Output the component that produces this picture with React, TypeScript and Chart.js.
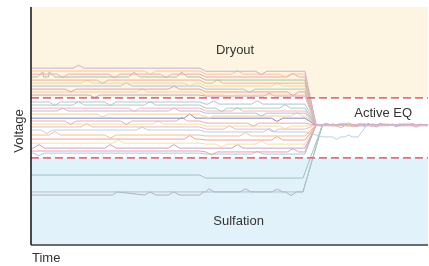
import React, { useEffect, useRef } from "react";
import { Chart, registerables } from "chart.js";

Chart.register(...registerables);

// Time axis (arbitrary units 0–100) and voltage axis (arbitrary units 0–100)
const stepTimes = [42.5, 44];
const convergeTimes = [69, 71.8];
const lateConvergeTimes = [68.5, 73.4];
const dryoutLimit = 61.8;
const sulfationLimit = 36.6;

const startVoltages = [74.3, 73.1, 71.8, 70.6, 69.3, 68.0, 66.8, 65.5, 64.3, 63.0, 60.1, 58.8, 57.5, 56.3, 55.0, 53.3, 52.1, 50.8, 49.6, 48.3, 46.2, 44.5, 42.8, 40.7, 39.5, 38.6, 29.4, 22.3, 21.0];
const midVoltages = [73.0, 71.8, 70.6, 69.3, 68.0, 66.8, 65.5, 64.3, 63.0, 62.6, 59.2, 57.5, 56.3, 55.4, 54.2, 53.3, 51.2, 50.0, 48.7, 47.5, 45.8, 44.1, 42.4, 40.7, 39.1, 38.2, 28.1, 22.3, 22.3];
const endVoltages = [50.6, 50.4, 50.2, 50.6, 50.3, 50.5, 50.4, 50.1, 50.6, 50.3, 50.4, 50.2, 50.5, 50.4, 50.6, 50.3, 50.4, 50.2, 50.5, 45.4, 50.4, 50.3, 50.6, 50.4, 50.2, 50.5, 50.4, 50.3, 50.6];

// special excursions: line index -> extra [time, voltage] keyframes
const line20Recovery = [[82.4, 45.4], [84.6, 50.4]];
const line29Rise = [[20.5, 21.0], [21.7, 22.3]];

// zig-zag bumps: [time, voltage offset]
const bumps: number[][][] = [
  [[12, 1.2], [58, -1.4], [80, 0.7]],
  [[30, -1.5], [52, 1.5], [64, -1.2], [77, -0.7], [93, 0.7]],
  [[8, -1.5], [21, -1.5], [34, -1.5], [66, 1.5], [76, 0.8], [86, 0.8], [97, -0.7]],
  [[3, 2.2], [4.6, 2.2], [26, 2.0], [38, 2.0]],
  [[18, -1.4], [47, 1.4], [82, -0.7]],
  [[14, 1.2], [40, -1.3], [62, 1.3], [89, 0.7]],
  [[24, 1.4], [55, -1.4], [74.5, 0.8], [84, -0.7]],
  [[10, -1.2], [36, 1.2], [66, -1.5], [78, -0.8], [91, 0.8]],
  [[28, 1.3], [50, -1.3], [95, 0.7]],
  [[16, -1.0], [60, 1.2], [87, -0.7]],
  [[6, -1.5], [20, -1.5], [46, 1.4], [57, 1.4], [79, 0.8]],
  [[12, 1.5], [30, 1.5], [48, -1.5], [64, 1.5], [74, 0.8], [88, 0.8], [98, 0.7]],
  [[26, -1.4], [52, 1.4], [83, 0.7]],
  [[8, 1.2], [36, 1.3], [58, -1.2], [92, -0.7]],
  [[18, -1.2], [44.5, -1.4], [67, 1.4], [76, -0.7]],
  [[40, 1.8], [62, -1.4], [85, 0.7]],
  [[10, -1.5], [24, -1.5], [38, 1.5], [56, -1.3], [81, -0.7], [96, 0.7]],
  [[32, 1.3], [64, -1.3], [90, 0.8]],
  [[14, 1.4], [50, 1.4], [61, -1.2], [78, 0.7]],
  [[4, -1.5], [28, 1.2], [60, 1.5], [77, -1.0], [80, 0.8]],
  [[6, 1.5], [20, -1.3], [54, 1.5], [86, -0.7]],
  [[40, 1.5], [62, 1.5], [94, 0.7]],
  [[22, 1.3], [48, -1.3], [58, 1.3], [80, -0.7]],
  [[2, 1.5], [20, 1.5], [36, 1.5], [52, 1.5], [88, 0.7]],
  [[45.5, -1.2], [66, 1.4]],
  [[2, -1.0], [57, 1.2], [92, -0.7]],
  [],
  [[84, 0.7]],
  [[30, 1.3], [36, 1.3], [44.8, 1.3], [54, 1.3], [62, 1.2], [65.5, -1.5]],
];

const lineColors = [
  "#c9b1d6", "#f5c792", "#f2a7b3", "#a9c4a0", "#eeb09f", "#f6d98c", "#a8c8e0", "#e9a0a8",
  "#f8cfa0", "#c8a8c8", "#b0c4d4", "#a9cfb8", "#f3b4c0", "#c0b8d8", "#f6cf98", "#7f86c0",
  "#f0a8b0", "#f5dc98", "#e8b8c8", "#b8d0e8", "#f4c090", "#f0a0a0", "#f5e0a0", "#c8a0c8",
  "#e8a0a8", "#a8c8e0", "#a0c4bc", "#a8c8b8", "#b8a8d0",
];

function levelAt(i: number, t: number, late: boolean) {
  const conv = late ? lateConvergeTimes : convergeTimes;
  if (t < stepTimes[0]) {
    if (i === 28 && t < line29Rise[0][0]) return line29Rise[0][1];
    return startVoltages[i];
  }
  if (t < conv[0]) return midVoltages[i];
  if (i === 19 && t > line20Recovery[0][0]) return line20Recovery[1][1];
  return endVoltages[i];
}

function buildLine(i: number) {
  const late = i >= 26;
  const conv = late ? lateConvergeTimes : convergeTimes;
  const keys: number[][] = [
    [0, i === 28 ? line29Rise[0][1] : startVoltages[i]],
    [stepTimes[0], startVoltages[i]],
    [stepTimes[1], midVoltages[i]],
    [conv[0], midVoltages[i]],
    [conv[1] + (i === 19 ? 1.8 : 0), endVoltages[i]],
    [100, i === 19 ? line20Recovery[1][1] : endVoltages[i]],
  ];
  if (i === 28) keys.push(...line29Rise);
  if (i === 19) keys.push(...line20Recovery);
  for (const [t, dv] of bumps[i]) {
    const h = t > 72 ? 1.0 : 1.4;
    const base = levelAt(i, t, late);
    keys.push([t - h, base], [t, base + dv], [t + h, base]);
  }
  keys.sort((a, b) => a[0] - b[0]);
  return keys.map(([x, y]) => ({ x, y }));
}

const FONT = "'Liberation Sans', Arial, sans-serif";

const decorPlugin = {
  id: "decor",
  beforeDatasetsDraw(chart: any) {
    const { ctx, chartArea: a, scales } = chart;
    const yTop = scales.y.getPixelForValue(dryoutLimit);
    const yBot = scales.y.getPixelForValue(sulfationLimit);
    ctx.save();
    ctx.fillStyle = "#fdf5e1";
    ctx.fillRect(a.left, a.top, a.right - a.left, yTop - a.top);
    ctx.fillStyle = "#ffffff";
    ctx.fillRect(a.left, yTop, a.right - a.left, yBot - yTop);
    ctx.fillStyle = "#e2f2fb";
    ctx.fillRect(a.left, yBot, a.right - a.left, a.bottom - yBot);
    ctx.restore();
  },
  afterDatasetsDraw(chart: any) {
    const { ctx, chartArea: a, scales } = chart;
    const x = scales.x;
    const y = scales.y;
    ctx.save();
    // axes
    ctx.strokeStyle = "#6b6b6b";
    ctx.lineWidth = 2;
    ctx.beginPath();
    ctx.moveTo(a.left, a.bottom);
    ctx.lineTo(a.right, a.bottom);
    ctx.stroke();
    ctx.strokeStyle = "#111111";
    ctx.lineWidth = 1.5;
    ctx.beginPath();
    ctx.moveTo(a.left, a.top);
    ctx.lineTo(a.left, a.bottom);
    ctx.stroke();
    // region labels
    ctx.fillStyle = "#333333";
    ctx.font = `13px ${FONT}`;
    ctx.textAlign = "center";
    ctx.textBaseline = "middle";
    ctx.fillText("Dryout", x.getPixelForValue(51.4), y.getPixelForValue(81.9));
    ctx.fillText("Active EQ", x.getPixelForValue(88.7), y.getPixelForValue(55.4));
    ctx.fillText("Sulfation", x.getPixelForValue(52.3), y.getPixelForValue(10.1));
    // axis titles
    ctx.textAlign = "left";
    ctx.fillText("Time", a.left + 1, a.bottom + 13);
    ctx.translate(a.left - 12, (a.top + a.bottom) / 2 + 5);
    ctx.rotate(-Math.PI / 2);
    ctx.textAlign = "center";
    ctx.fillText("Voltage", 0, 0);
    ctx.restore();
  },
};

export default function App() {
  const ref = useRef<HTMLCanvasElement | null>(null);
  useEffect(() => {
    if (!ref.current) return;
    const thresholds = [dryoutLimit, sulfationLimit].map((v) => ({
      data: [{ x: 0, y: v }, { x: 100, y: v }],
      borderColor: "#e3707f",
      borderWidth: 1.6,
      borderDash: [8, 4],
      pointRadius: 0,
      tension: 0,
    }));
    const lines = startVoltages.map((_, i) => ({
      data: buildLine(i),
      borderColor: lineColors[i],
      borderWidth: 1,
      pointRadius: 0,
      tension: 0,
    }));
    const chart = new Chart(ref.current, {
      type: "line",
      data: { datasets: [...thresholds, ...lines] as any },
      options: {
        animation: false,
        responsive: false,
        parsing: true as any,
        layout: { padding: { left: 31, top: 7, right: 1, bottom: 21 } },
        plugins: { legend: { display: false }, tooltip: { enabled: false } },
        scales: {
          x: { type: "linear", min: 0, max: 100, display: false },
          y: { type: "linear", min: 0, max: 100, display: false },
        },
      },
      plugins: [decorPlugin],
    });
    return () => chart.destroy();
  }, []);
  return (
    <div style={{ position: "fixed", left: 0, top: 0, width: 429, height: 266, background: "#ffffff" }}>
      <canvas ref={ref} width={429} height={266} style={{ display: "block" }} />
    </div>
  );
}
